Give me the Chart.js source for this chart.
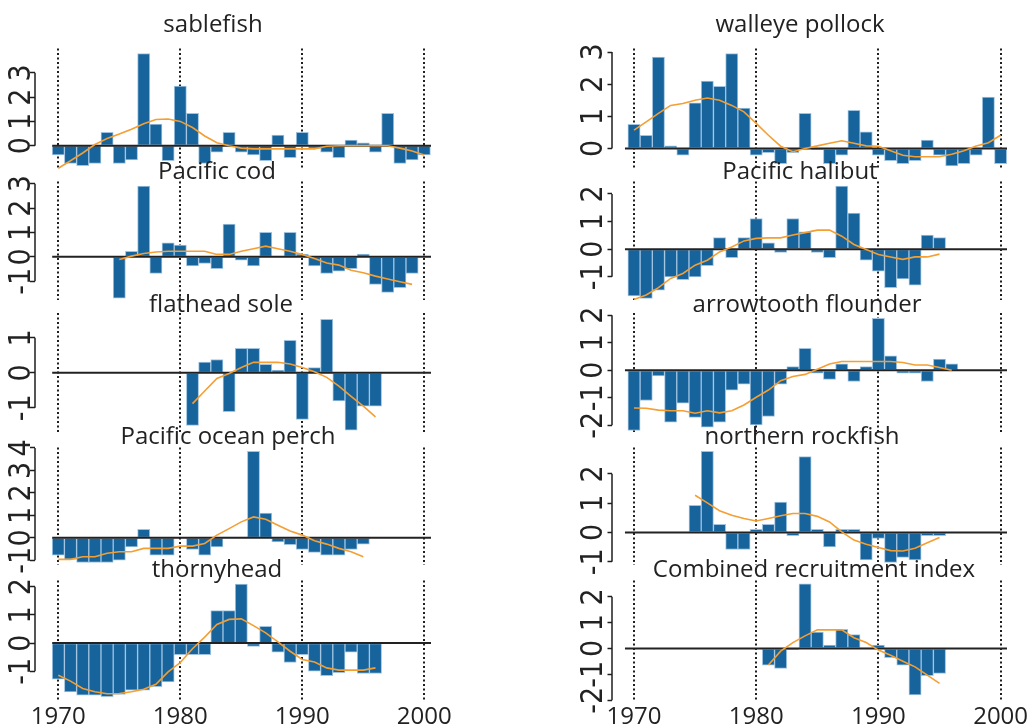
<!DOCTYPE html>
<html>
<head>
<meta charset="utf-8">
<script src="https://cdn.jsdelivr.net/npm/chart.js@4.4.1/dist/chart.umd.min.js"></script>
<style>
  html, body { margin: 0; padding: 0; background: #ffffff; width: 1028px; height: 727px; overflow: hidden; position: relative; }
  canvas { position: absolute; }
</style>
</head>
<body>
<script>
// ---------------- data ----------------
const xTicks = [1970, 1980, 1990, 2000];

const sablefishStart = 1970;
const sablefishBars = [-0.38,-0.73,-0.82,-0.73,0.55,-0.73,-0.59,3.79,0.89,-0.62,2.45,1.33,-0.73,-0.27,0.55,-0.27,-0.38,-0.62,0.44,-0.49,0.55,-0.11,-0.27,-0.49,0.23,0.12,-0.27,1.33,-0.73,-0.59,-0.38];
const sablefishTrend = [-0.93,-0.62,-0.3,0.05,0.3,0.48,0.68,0.9,1.08,1.1,1.0,0.75,0.4,0.12,0.0,-0.1,-0.13,-0.13,-0.13,-0.13,-0.13,-0.13,-0.02,0,0,0,0,0,-0.1,-0.22,-0.38];
const sablefishTicks = [0, 1, 2, 3];

const codStart = 1975;
const codBars = [-1.7,0.23,2.9,-0.68,0.57,0.48,-0.37,-0.27,-0.48,1.34,-0.14,-0.37,1.01,0,1.01,0.11,-0.37,-0.68,-0.59,-0.48,0.11,-1.13,-1.46,-1.26,-0.68];
const codTrend = [-0.11,0.03,0.14,0.2,0.23,0.23,0.23,0.23,0.1,0.1,0.23,0.33,0.44,0.33,0.23,0.1,-0.07,-0.25,-0.34,-0.55,-0.65,-0.79,-0.91,-1.02,-1.13];
const codTicks = [-1, 0, 1, 2, 3];

const flatheadStart = 1981;
const flatheadBars = [-1.5,0.31,0.38,-1.11,0.7,0.7,0.24,0.08,0.93,-1.33,0.15,1.53,-0.8,-1.64,-0.95,-0.95];
const flatheadTrend = [-0.88,-0.52,-0.16,-0.02,0.15,0.3,0.3,0.3,0.25,0.15,0.03,-0.13,-0.38,-0.67,-0.95,-1.26];
const flatheadTicks = [-1, 0, 1];

const perchStart = 1970;
const perchBars = [-0.77,-0.96,-1.1,-1.1,-1.1,-0.99,-0.4,0.38,-0.77,-0.77,null,-0.52,-0.77,-0.4,0.03,0.03,3.85,1.1,-0.18,-0.3,-0.52,-0.65,-0.77,-0.77,-0.52,-0.28];
const perchTrend = [-0.96,-0.96,-0.84,-0.84,-0.69,-0.62,-0.62,-0.47,-0.47,-0.47,-0.37,-0.37,-0.25,0.12,0.41,0.71,0.93,0.83,0.56,0.3,0.12,-0.13,-0.28,-0.47,-0.62,-0.84];
const perchTicks = [-1, 0, 1, 2, 3, 4];

const thornyStart = 1970;
const thornyBars = [-1.28,-1.73,-1.85,-1.85,-1.9,-1.82,-1.67,-1.67,-1.55,-1.38,-0.41,-0.41,-0.41,1.15,1.15,2.09,-0.12,0.59,-0.32,-0.69,-0.41,-1.0,-1.16,-1.05,-0.32,-1.08,-1.08];
const thornyTrend = [-1.14,-1.35,-1.61,-1.73,-1.8,-1.79,-1.73,-1.64,-1.46,-1.02,-0.69,-0.2,0.21,0.66,0.84,0.86,0.62,0.36,0.04,-0.29,-0.58,-0.67,-0.88,-0.96,-0.96,-0.96,-0.88];
const thornyTicks = [-1, 0, 1, 2];

const pollockStart = 1970;
const pollockBars = [0.75,0.41,2.84,0.08,-0.21,1.42,2.1,1.93,2.95,1.26,-0.21,-0.13,-0.47,-0.13,1.09,-0.03,-0.47,-0.21,1.19,0.52,-0.21,-0.38,-0.47,-0.38,0.26,-0.21,-0.54,-0.47,-0.21,1.6,-0.47];
const pollockTrend = [0.57,0.83,1.09,1.34,1.4,1.5,1.57,1.5,1.34,1.14,0.78,0.41,0.07,-0.1,0,0.08,0.16,0.24,0.16,0.08,0.07,-0.07,-0.21,-0.26,-0.26,-0.26,-0.18,-0.07,0.08,0.18,0.41];
const pollockTicks = [0, 1, 2, 3];

const halibutStart = 1970;
const halibutBars = [-1.69,-1.78,-1.48,-1.0,-1.1,-1.0,-0.6,0.42,-0.31,0.42,1.11,0.23,-0.12,1.11,0.63,-0.12,-0.31,2.28,1.31,-0.4,-0.8,-1.39,-1.08,-1.3,0.51,0.42];
const halibutTrend = [-1.82,-1.66,-1.39,-1.06,-0.88,-0.58,-0.4,-0.1,0.08,0.3,0.39,0.41,0.41,0.51,0.6,0.69,0.69,0.47,0.17,-0.01,-0.19,-0.28,-0.37,-0.28,-0.28,-0.18];
const halibutTicks = [-1, 0, 1, 2];

const arrowStart = 1970;
const arrowBars = [-2.19,-1.1,-0.21,-1.89,-1.2,-1.71,-2.07,-1.89,-0.72,-0.51,-1.99,-1.68,-0.51,0.13,0.8,-0.11,-0.33,0.23,-0.41,0.13,1.89,0.52,-0.11,-0.11,-0.41,0.41,0.23];
const arrowTrend = [-1.37,-1.38,-1.45,-1.47,-1.47,-1.56,-1.47,-1.55,-1.47,-1.26,-0.98,-0.72,-0.38,-0.23,-0.15,0.04,0.23,0.32,0.32,0.32,0.32,0.32,0.28,0.19,0.19,0.1,0];
const arrowTicks = [-2, -1, 0, 1, 2];

const rockStart = 1975;
const rockBars = [0.93,2.77,0.28,-0.58,-0.58,0.11,0.28,1.04,-0.11,2.59,0.11,-0.49,0.11,0.11,-0.94,-0.2,-1.02,-0.85,-0.94,-0.11,-0.11];
const rockTrend = [1.27,1.01,0.74,0.59,0.48,0.39,0.48,0.57,0.65,0.65,0.55,0.36,0.02,-0.26,-0.4,-0.51,-0.62,-0.63,-0.54,-0.35,-0.17];
const rockTicks = [-1, 0, 1, 2];

const combinedStart = 1981;
const combinedBars = [-0.64,-0.77,-0.03,2.5,0.64,0.13,0.74,0.54,0.02,0.13,-0.35,-0.64,-1.79,-1.05,-0.96];
const combinedTrend = [-0.64,-0.1,0.23,0.49,0.72,0.72,0.72,0.42,0.23,-0.06,-0.26,-0.49,-0.71,-1.03,-1.35];
const combinedTicks = [-2, -1, 0, 1, 2];

// ---------------- layout ----------------
const COLORS = { bar: '#17649c', barEdge: '#9fc3e0', trend: '#f59e32', zero: '#222222', grid: '#1e1e1e', text: '#222222' };
const TITLE_FONT = "'Open Sans', 'Noto Sans', sans-serif";
const YTICK_FONT = "'Liberation Sans Narrow', 'DejaVu Sans Condensed', 'Arial Narrow', sans-serif";
const YTICK_SIZE = 30;

const cols = [
  { left: 35,  right: 431,  x1970: 58.3, ppy: 12.2,  hStart: 1969.5,  labelOff: 13.2, tl: 5 },
  { left: 612, right: 1007, x1970: 634,  ppy: 12.22, hStart: 1969.26, labelOff: 17.3, tl: 4.5 }
];
const rows = [
  { top: 48,  bottom: 170, d: 23.5 },
  { top: 181, bottom: 300, d: 9.5 },
  { top: 313, bottom: 433, d: 8 },
  { top: 447, bottom: 565, d: 10.5 },
  { top: 580, bottom: 700, d: 10.5 }
];

const panels = [
  { title: 'sablefish', col: 0, row: 0, start: sablefishStart, bars: sablefishBars, trend: sablefishTrend, ticks: sablefishTicks, ymin: -1.0, ymax: 4.0, tc: 213 },
  { title: 'Pacific cod', col: 0, row: 1, start: codStart, bars: codBars, trend: codTrend, ticks: codTicks, ymin: -1.77, ymax: 3.09, tc: 217 },
  { title: 'flathead sole', col: 0, row: 2, start: flatheadStart, bars: flatheadBars, trend: flatheadTrend, ticks: flatheadTicks, ymin: -1.72, ymax: 1.71, tc: 221 },
  { title: 'Pacific ocean perch', col: 0, row: 3, start: perchStart, bars: perchBars, trend: perchTrend, ticks: perchTicks, ymin: -1.21, ymax: 4.02, tc: 228 },
  { title: 'thornyhead', col: 0, row: 4, start: thornyStart, bars: thornyBars, trend: thornyTrend, ticks: thornyTicks, ymin: -2.02, ymax: 2.22, tc: 217 },
  { title: 'walleye pollock', col: 1, row: 0, start: pollockStart, bars: pollockBars, trend: pollockTrend, ticks: pollockTicks, ymin: -0.67, ymax: 3.11, tc: 800 },
  { title: 'Pacific halibut', col: 1, row: 1, start: halibutStart, bars: halibutBars, trend: halibutTrend, ticks: halibutTicks, ymin: -1.84, ymax: 2.45, tc: 800 },
  { title: 'arrowtooth flounder', col: 1, row: 2, start: arrowStart, bars: arrowBars, trend: arrowTrend, ticks: arrowTicks, ymin: -2.28, ymax: 2.08, tc: 807 },
  { title: 'northern rockfish', col: 1, row: 3, start: rockStart, bars: rockBars, trend: rockTrend, ticks: rockTicks, ymin: -1.11, ymax: 2.9, tc: 802 },
  { title: 'Combined recruitment index', col: 1, row: 4, start: combinedStart, bars: combinedBars, trend: combinedTrend, ticks: combinedTicks, ymin: -1.99, ymax: 2.63, tc: 814 }
];

const measureCtx = document.createElement('canvas').getContext('2d');
function textWidth(str, size, family) {
  measureCtx.font = size + 'px ' + family;
  return measureCtx.measureText(str).width;
}

const axisLinePlugin = {
  id: 'axisLine',
  afterDraw(chart) {
    const s = chart.scales.y;
    const vals = s.ticks.map(t => t.value);
    const yA = s.getPixelForValue(Math.min(...vals));
    const yB = s.getPixelForValue(Math.max(...vals));
    const ctx = chart.ctx;
    ctx.save();
    ctx.strokeStyle = COLORS.grid;
    ctx.lineWidth = 1.5;
    ctx.beginPath();
    ctx.moveTo(s.right, yA);
    ctx.lineTo(s.right, yB);
    ctx.stroke();
    ctx.restore();
  }
};

function toPoints(start, values) {
  const pts = [];
  values.forEach((v, i) => { if (v !== null && v !== undefined) pts.push({ x: start + i, y: v }); });
  return pts;
}

const TITLE_LH = 16;       // title line box in px
const TITLE_SIZE = 24;
const YW = 40;             // y-axis box width
const TOP_PAD = 16;        // room above title glyphs

panels.forEach(p => {
  const c = cols[p.col];
  const r = rows[p.row];
  const isBottom = p.row === 4;

  // title is centred over [canvasLeft, chartRight + w2]
  const canvasLeft = c.left - YW;
  const w2 = Math.max(0, 2 * p.tc - c.left - c.right + YW);
  const pr = 36;
  const width = (c.right - canvasLeft) + w2 + pr;

  const titlePB = r.d - TITLE_LH / 2;
  const canvasTop = r.top - TITLE_LH - titlePB - TOP_PAD;
  const xAxisH = isBottom ? 32 : 0;
  const padBottom = isBottom ? 0 : 16;
  const height = (r.bottom - canvasTop) + xAxisH + padBottom;

  const xmin = 1970 - (c.x1970 - c.left) / c.ppy;
  const xmax = 1970 + (c.right - c.x1970) / c.ppy;

  const widest = Math.max(...p.ticks.map(t => textWidth(String(t), YTICK_SIZE, YTICK_FONT)));
  const yPad = c.labelOff - c.tl - widest / 2;

  const cv = document.createElement('canvas');
  cv.width = width; cv.height = height;
  cv.style.left = canvasLeft + 'px';
  cv.style.top = canvasTop + 'px';
  cv.style.width = width + 'px';
  cv.style.height = height + 'px';
  document.body.appendChild(cv);

  const scales = {
    x: {
      type: 'linear', position: 'bottom', min: xmin, max: xmax, bounds: 'data', offset: false, z: 1,
      afterBuildTicks: s => { s.ticks = xTicks.map(v => ({ value: v })); },
      afterFit: s => { s.height = xAxisH; s.paddingLeft = 0; s.paddingRight = 0; },
      grid: { display: true, offset: false, drawOnChartArea: true, drawTicks: false, color: COLORS.grid, lineWidth: 2 },
      border: { display: false, dash: [2, 2.5] },
      ticks: {
        display: isBottom, autoSkip: false, maxRotation: 0, minRotation: 0, padding: 3,
        color: COLORS.text, font: { family: TITLE_FONT, size: 24, lineHeight: 1.2 },
        callback: v => String(v)
      }
    },
    y: {
      type: 'linear', position: 'left', min: p.ymin, max: p.ymax, bounds: 'data',
      afterBuildTicks: s => { s.ticks = p.ticks.map(v => ({ value: v })); },
      afterFit: s => { s.width = YW; s.paddingTop = 0; s.paddingBottom = 0; },
      grid: { display: true, drawOnChartArea: false, drawTicks: true, tickLength: c.tl, tickColor: COLORS.grid, tickWidth: 1.5, color: COLORS.grid },
      border: { display: false },
      ticks: {
        autoSkip: false, minRotation: 90, maxRotation: 90, crossAlign: 'center', padding: yPad,
        color: COLORS.text, font: { family: YTICK_FONT, size: YTICK_SIZE, lineHeight: 1 },
        callback: v => String(v)
      }
    }
  };
  if (w2 > 0) {
    scales.y2 = {
      type: 'linear', position: 'right', display: true,
      afterFit: s => { s.width = w2; s.paddingTop = 0; s.paddingBottom = 0; },
      grid: { display: false }, border: { display: false }, ticks: { display: false }
    };
  }

  new Chart(cv, {
    type: 'bar',
    data: {
      datasets: [
        {
          type: 'line', label: 'trend', data: toPoints(p.start, p.trend),
          borderColor: COLORS.trend, borderWidth: 1.6, pointRadius: 0, tension: 0, fill: false, order: 1
        },
        {
          type: 'line', label: 'zero', data: [{ x: c.hStart, y: 0 }, { x: xmax, y: 0 }],
          borderColor: COLORS.zero, borderWidth: 2, pointRadius: 0, fill: false, order: 2
        },
        {
          type: 'bar', label: p.title, data: toPoints(p.start, p.bars),
          backgroundColor: COLORS.bar, borderColor: COLORS.barEdge, borderWidth: 1, borderSkipped: false,
          barPercentage: 1, categoryPercentage: 1, order: 3
        }
      ]
    },
    options: {
      responsive: false, animation: false, devicePixelRatio: 1, events: [],
      layout: { padding: { left: 0, right: pr, top: TOP_PAD, bottom: padBottom } },
      plugins: {
        legend: { display: false },
        tooltip: { enabled: false },
        title: {
          display: true, text: p.title, color: COLORS.text, align: 'center',
          font: { family: TITLE_FONT, size: TITLE_SIZE, weight: 'normal', lineHeight: TITLE_LH / TITLE_SIZE },
          padding: { top: 0, bottom: titlePB }
        }
      },
      scales: scales
    },
    plugins: [axisLinePlugin]
  });
});
</script>
</body>
</html>
